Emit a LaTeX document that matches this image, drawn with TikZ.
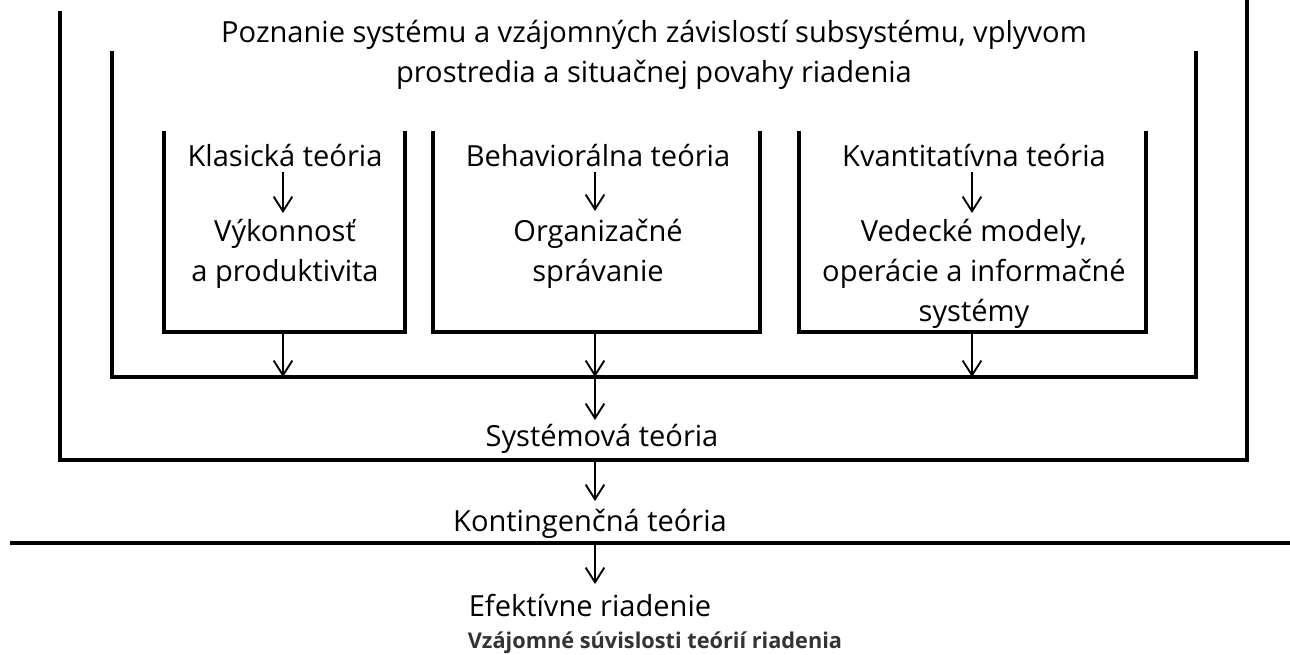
\documentclass[tikz,border=0pt]{standalone}
\usepackage{fontspec}
\setmainfont{Open Sans}
\usetikzlibrary{arrows.meta}
\begin{document}
\begin{tikzpicture}[x=0.75pt,y=-0.75pt,
  lbl/.style={inner sep=2pt, align=center, font=\fontsize{21.8}{30}\selectfont},
  frame/.style={line width=3pt, line cap=rect},
  arr/.style={line width=1.4pt, -{Straight Barb[length=11pt,width=14pt,line width=1.4pt]}}]
\path[use as bounding box, fill=white] (0,0) rectangle (1290,655);
% frames
\draw[frame] (60,13) -- (60,460) -- (1247,460) -- (1247,0);
\draw[frame] (112,53) -- (112,377) -- (1196,377) -- (1196,53);
\draw[frame] (164,133) -- (164,332) -- (405,332) -- (405,133);
\draw[frame] (433,133) -- (433,332) -- (760,332) -- (760,133);
\draw[frame] (799,133) -- (799,332) -- (1146,332) -- (1146,133);
\draw[line width=3pt] (10,543) -- (1290,543);
% texts
\node[lbl] (title) at (654,55) {Poznanie systému a vzájomných závislostí subsystému, vplyvom\\prostredia a situačnej povahy riadenia};
\node[lbl] (k1) at (285,156) {Klasická teória};
\node[lbl] (v1) at (285,254) {Výkonnosť\\a produktivita};
\node[lbl] (b1) at (598,156) {Behaviorálna teória};
\node[lbl] (v2) at (598,254) {Organizačné\\správanie};
\node[lbl] (q1) at (974,156) {Kvantitatívna teória};
\node[lbl] (v3) at (974,274) {Vedecké modely,\\operácie a informačné\\systémy};
\node[lbl] (sys) at (602,439) {Systémová teória};
\node[lbl] (kon) at (590,524) {Kontingenčná teória};
\node[lbl] (ef) at (590,606) {Efektívne riadenie};
\node[inner sep=0pt, font=\fontsize{16.3}{18}\bfseries\selectfont, text=black!80] (cap) at (655,643) {Vzájomné súvislosti teórií riadenia};
% coordinates
\coordinate (o1) at (283,332); \coordinate (i1) at (283,377);
\coordinate (o2) at (595,332); \coordinate (i2) at (595,377);
\coordinate (o3) at (972,332); \coordinate (i3) at (972,377);
\coordinate (s2) at (595,420);
\coordinate (ob) at (595,460); \coordinate (kt) at (595,501);
\coordinate (hl) at (595,543); \coordinate (et) at (595,584);
% arrows
\draw[arr] (283,172) -- (283,213);
\draw[arr] (595,172) -- (595,211);
\draw[arr] (972,172) -- (972,213);
\draw[arr] (o1) -- (i1);
\draw[arr] (o2) -- (i2);
\draw[arr] (o3) -- (i3);
\draw[arr] (i2) -- (s2);
\draw[arr] (ob) -- (kt);
\draw[arr] (hl) -- (et);
\end{tikzpicture}
\end{document}
